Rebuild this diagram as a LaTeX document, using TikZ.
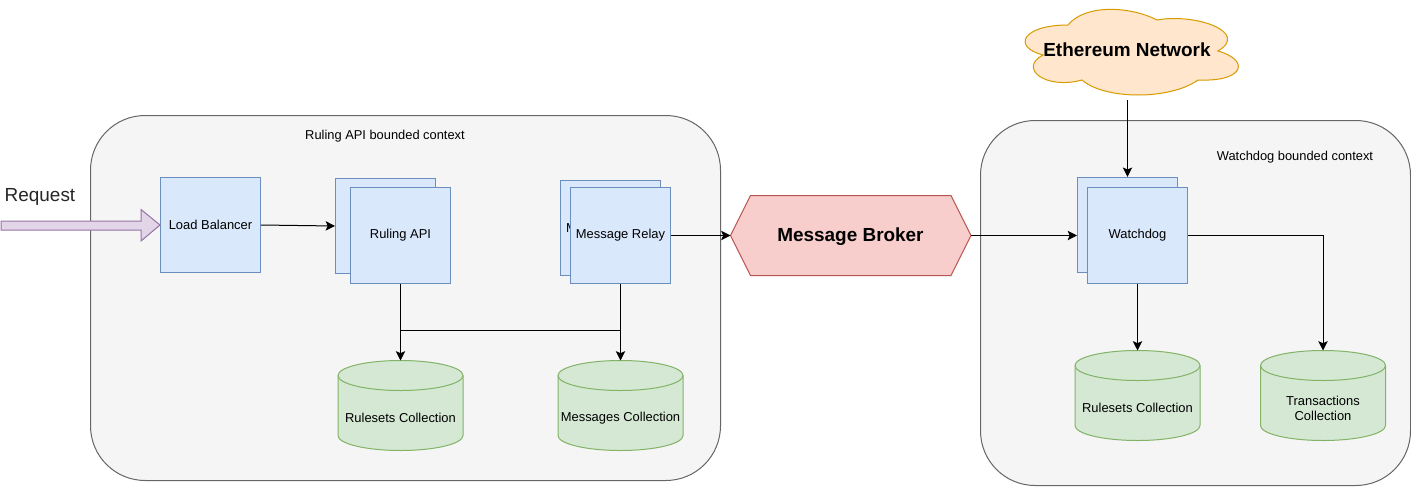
\documentclass[tikz,border=0pt]{standalone}
\usepackage{fontspec}
\setmainfont{Liberation Sans}
\usetikzlibrary{arrows.meta}
\definecolor{bluef}{HTML}{DAE8FC}\definecolor{blued}{HTML}{6C8EBF}
\definecolor{greenf}{HTML}{D5E8D4}\definecolor{greend}{HTML}{82B366}
\definecolor{redf}{HTML}{F8CECC}\definecolor{redd}{HTML}{B85450}
\definecolor{orangef}{HTML}{FFE6CC}\definecolor{oranged}{HTML}{D79B00}
\definecolor{purplef}{HTML}{E1D5E7}\definecolor{purpled}{HTML}{9673A6}
\definecolor{grayf}{HTML}{F5F5F5}\definecolor{grayd}{HTML}{666666}
\newcommand{\fsz}[1]{\fontsize{#1}{#1}\selectfont}
\tikzset{
  x=0.75pt,y=-0.75pt,
  ctxbox/.style={draw=grayd,fill=grayf,line width=0.75pt,rounded corners=41pt},
  svc/.style={draw=blued,fill=bluef,line width=0.75pt,minimum width=75pt,minimum height=71.5pt,inner sep=0pt,align=center,font=\fsz{9.7}},
  conn/.style={draw=black,line width=0.75pt,-{Stealth[length=7pt,width=7pt,inset=1.5pt]}},
  plainline/.style={draw=black,line width=0.75pt},
  dbshape/.style={draw=greend,fill=greenf,line width=0.75pt},
  dbanchor/.style={minimum width=93.75pt,minimum height=67.5pt,inner sep=0pt,outer sep=0pt},
  dblabel/.style={font=\fsz{9.7},align=center,inner sep=0pt},
  ctxlabel/.style={font=\fsz{9.65},inner sep=0pt},
}
\newcommand{\dbcyl}[3]{%
  \draw[dbshape] (#1-62.5,#2+15) arc[x radius=62.5,y radius=15,start angle=180,end angle=360]
    -- (#1+62.5,#2+75) arc[x radius=62.5,y radius=15,start angle=0,end angle=180] -- cycle;
  \draw[dbshape,fill=none] (#1-62.5,#2+15) arc[x radius=62.5,y radius=15,start angle=180,end angle=0];
  \node[dbanchor] (#3) at (#1,#2+45) {};
}
\begin{document}
\begin{tikzpicture}
\useasboundingbox (0,0) rectangle (1411,486);
\fill[white] (0,0) rectangle (1411,486);
% contexts
\draw[ctxbox] (90.5,115.5) rectangle (720.5,480.5);
\draw[ctxbox] (980.5,120.5) rectangle (1410.5,485.5);
\node[ctxlabel] (lctx) at (385,136) {Ruling API bounded context};
\node[ctxlabel] (rctx) at (1295,157) {Watchdog bounded context};
% request
\node[font=\fsz{14.2},text=black!85,inner sep=0pt] (req) at (40,197) {Request};
\coordinate (reqstart) at (1,225.5);
% services
\node[svc] (lb) at (210.5,225) {Load Balancer};
\node[svc] (rback) at (385.5,226) {};
\node[svc] (rfront) at (400.5,235.5) {\raisebox{-1pt}{Ruling API}};
\node[svc] (mback) at (610.5,228) {};
\node[font=\fsz{9.7},inner sep=0pt] (mhidden) at (571.5,228) {M};
\node[svc] (mfront) at (620.5,235.5) {\raisebox{-1pt}{Message Relay}};
\node[svc] (wback) at (1127.5,225) {};
\node[svc] (wfront) at (1137.5,235.5) {\raisebox{-1pt}{Watchdog}};
% request arrow shape
\draw[draw=purpled,fill=purplef,line width=0.75pt] (reqstart |- 0,221) -- (141,221) -- (141,209.5) -- (lb.west) -- (141,241) -- (141,230) -- (reqstart |- 0,230) -- cycle;
% broker
\draw[draw=redd,fill=redf,line width=0.75pt] (730.5,235.5) -- (750.5,195.5) -- (951,195.5) -- (971,235.5) -- (951,275.5) -- (750.5,275.5) -- cycle;
\node[inner sep=0pt,font=\bfseries\fsz{14.2}] (broker) at (850.5,236.5) {Message Broker};
\coordinate (brokerW) at (730.5,235.5);
\coordinate (brokerE) at (971,235.5);
% cloud
\draw[draw=oranged,fill=orangef,line width=0.75pt]
  (1068,25) .. controls (1085,4) and (1130,6) .. (1157,20)
  .. controls (1195,13) and (1250,32) .. (1218,51)
  .. controls (1250,60) and (1245,82) .. (1198,80)
  .. controls (1170,100) and (1105,100) .. (1082,80)
  .. controls (1045,90) and (1018,68) .. (1043,55)
  .. controls (1012,47) and (1022,25) .. (1068,25) -- cycle;
\node[inner sep=0pt,font=\bfseries\fsz{14.2}] (eth) at (1127,50) {Ethereum Network};
\coordinate (ethb) at (1127.5,100);
% databases
\dbcyl{400.5}{360.5}{rc}
\node[dblabel] (rct) at (400.5,418) {Rulesets Collection};
\dbcyl{620.5}{360.5}{mc}
\node[dblabel] (mct) at (620.5,418) {Messages Collection};
\dbcyl{1137.5}{350.5}{wrc}
\node[dblabel] (wrct) at (1137.5,408) {Rulesets Collection};
\dbcyl{1323}{350.5}{tc}
\node[dblabel] (tct) at (1323,408.5) {Transactions\\[2pt]Collection};
% connectors
\draw[conn] (lb.east) -- (rback.west);
\draw[conn] (rfront.south) -- (rc.north);
\draw[conn] (mfront.south) -- (mc.north);
\draw[plainline] (rfront.south |- 0,330.5) -- (mfront.south |- 0,330.5);
\draw[conn] (mfront.east) -- (brokerW);
\draw[conn] (brokerE) -- (wback.west |- brokerE);
\draw[conn] (ethb) -- (wback.north);
\draw[conn] (wfront.south) -- (wrc.north);
\draw[conn] (wfront.east) -| (tc.north);
\end{tikzpicture}
\end{document}
